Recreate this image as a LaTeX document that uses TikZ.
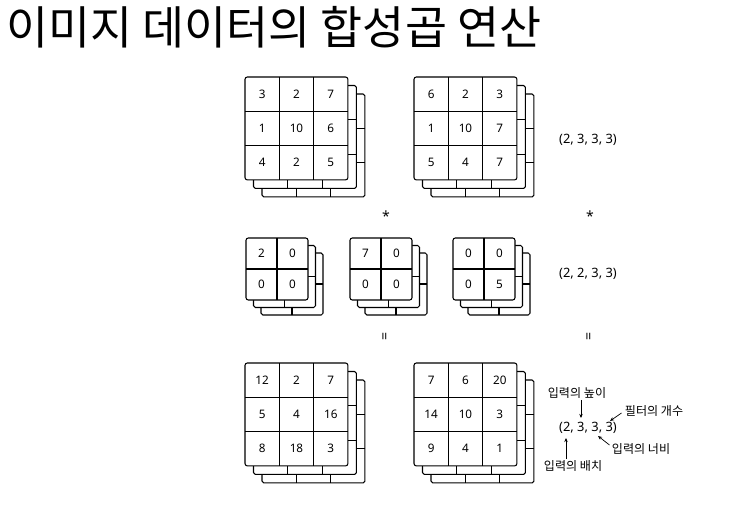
\documentclass[tikz,border=0pt]{standalone}
\usepackage{fontspec}
\setmainfont{Noto Sans}
\newfontfamily\kofont{Noto Sans CJK KR}
\usetikzlibrary{arrows.meta,positioning}

\tikzset{
  grid line/.style={line width=0.9pt, line join=round},
  cell num/.style={font=\fontsize{10}{12}\selectfont, inner sep=0pt},
  dim label/.style={font=\fontsize{11}{13}\selectfont, inner sep=1pt},
  op sign/.style={font=\fontsize{12}{14}\selectfont, inner sep=0pt},
  note/.style={font=\kofont\fontsize{10.3}{12}\selectfont, inner sep=1pt},
  note arrow/.style={-{Stealth[length=3.5pt,width=3pt]}, line width=0.6pt},
}

% #1 name, #2 x, #3 y (top left of front sheet), #4 cells per side,
% #5 cell size, #6 sheet offset, #7 values row by row
\newcommand{\tensorstack}[7]{%
  \pgfmathsetmacro\tsSize{#4*#5}
  \pgfmathtruncatemacro\tsLast{#4-1}
  % sheets behind
  \foreach \k in {2,1} {
    \pgfmathsetmacro\tsD{\k*#6}
    \pgfmathsetmacro\tsP{(\k-1)*#6}
    \draw[grid line, rounded corners=1.5pt]
      ({#2+\tsSize+\tsP},{#3+\tsD}) -- ({#2+\tsSize+\tsD},{#3+\tsD})
      -- ({#2+\tsSize+\tsD},{#3+\tsSize+\tsD}) -- ({#2+\tsD},{#3+\tsSize+\tsD})
      -- ({#2+\tsD},{#3+\tsSize+\tsP});
    \foreach \i in {1,...,\tsLast} {
      \draw[grid line] ({#2+\tsSize+\tsD},{#3+\i*#5+\tsD}) -- ({#2+\tsSize+\tsP},{#3+\i*#5+\tsD});
      \draw[grid line] ({#2+\i*#5+\tsD},{#3+\tsSize+\tsD}) -- ({#2+\i*#5+\tsD},{#3+\tsSize+\tsP});
    }
  }
  % front sheet
  \draw[grid line, rounded corners=2pt, fill=white] (#2,#3) rectangle ++(\tsSize,\tsSize);
  \foreach \i in {1,...,\tsLast} {
    \draw[grid line] ({#2+\i*#5},#3) -- ++(0,\tsSize);
    \draw[grid line] (#2,{#3+\i*#5}) -- ++(\tsSize,0);
  }
  \foreach \v [count=\j from 0] in {#7} {
    \pgfmathtruncatemacro\tsRow{div(\j,#4)}
    \pgfmathtruncatemacro\tsCol{mod(\j,#4)}
    \node[cell num] (#1-\tsRow-\tsCol) at ({#2+(\tsCol+0.5)*#5},{#3+(\tsRow+0.5)*#5}) {\v};
  }
}

\begin{document}
\begin{tikzpicture}[x=0.03cm, y=-0.03cm]
\useasboundingbox (0,0) rectangle (748,508);

% ---- title -----------------------------------------------------------------
\node[font=\kofont\fontsize{39}{44}\selectfont, anchor=west, inner sep=0pt] (title)
  at (6,27) {이미지 데이터의 합성곱 연산};

% ---- input data (2,3,3,3) ----------------------------------------------------
\tensorstack{inA}{245}{77}{3}{34.3}{8.5}{3,2,7,1,10,6,4,2,5}
\tensorstack{inB}{414}{77}{3}{34.3}{8.5}{6,2,3,1,10,7,5,4,7}
\node[dim label] (inShape) at (588,140) {(2, 3, 3, 3)};

\node[op sign] (starA) at (386,216) {*};
\node[op sign] (starB) at (590,216) {*};

% ---- filters (2,2,3,3) -------------------------------------------------------
\tensorstack{fltA}{246}{238}{2}{31}{7.5}{2,0,0,0}
\tensorstack{fltB}{350}{238}{2}{31}{7.5}{7,0,0,0}
\tensorstack{fltC}{453}{238}{2}{31}{7.5}{0,0,0,5}
\node[dim label] (fltShape) at (588,274) {(2, 2, 3, 3)};

\node[op sign, rotate=90] (eqA) at (386,336) {=};
\node[op sign, rotate=90] (eqB) at (590,336) {=};

% ---- output (2,3,3,3) --------------------------------------------------------
\tensorstack{outA}{245}{363}{3}{34.3}{8.5}{12,2,7,5,4,16,8,18,3}
\tensorstack{outB}{414}{363}{3}{34.3}{8.5}{7,6,20,14,10,3,9,4,1}
\node[dim label] (outShape) at (588,428) {(2, 3, 3, 3)};

% ---- what each axis means ------------------------------------------------------
\coordinate (axBatch)  at (566,438);
\coordinate (axHeight) at (581,418);
\coordinate (axWidth)  at (598,436);
\coordinate (axCount)  at (610,421);

\node[note] (nHeight) at (577,393) {입력의 높이};
\node[note] (nCount)  at (654,411) {필터의 개수};
\node[note] (nWidth)  at (641,449) {입력의 너비};
\node[note] (nBatch)  at (573,466) {입력의 배치};

\draw[note arrow] (nHeight.south -| axHeight) -- (axHeight);
\draw[note arrow] (nCount.west) ++(-2,2) coordinate (nCountTail) (nCountTail) -- (axCount);
\draw[note arrow] (nWidth.west) ++(-1,-4) coordinate (nWidthTail) (nWidthTail) -- (axWidth);
\draw[note arrow] (nBatch.north -| axBatch) -- (axBatch);

\end{tikzpicture}
\end{document}
